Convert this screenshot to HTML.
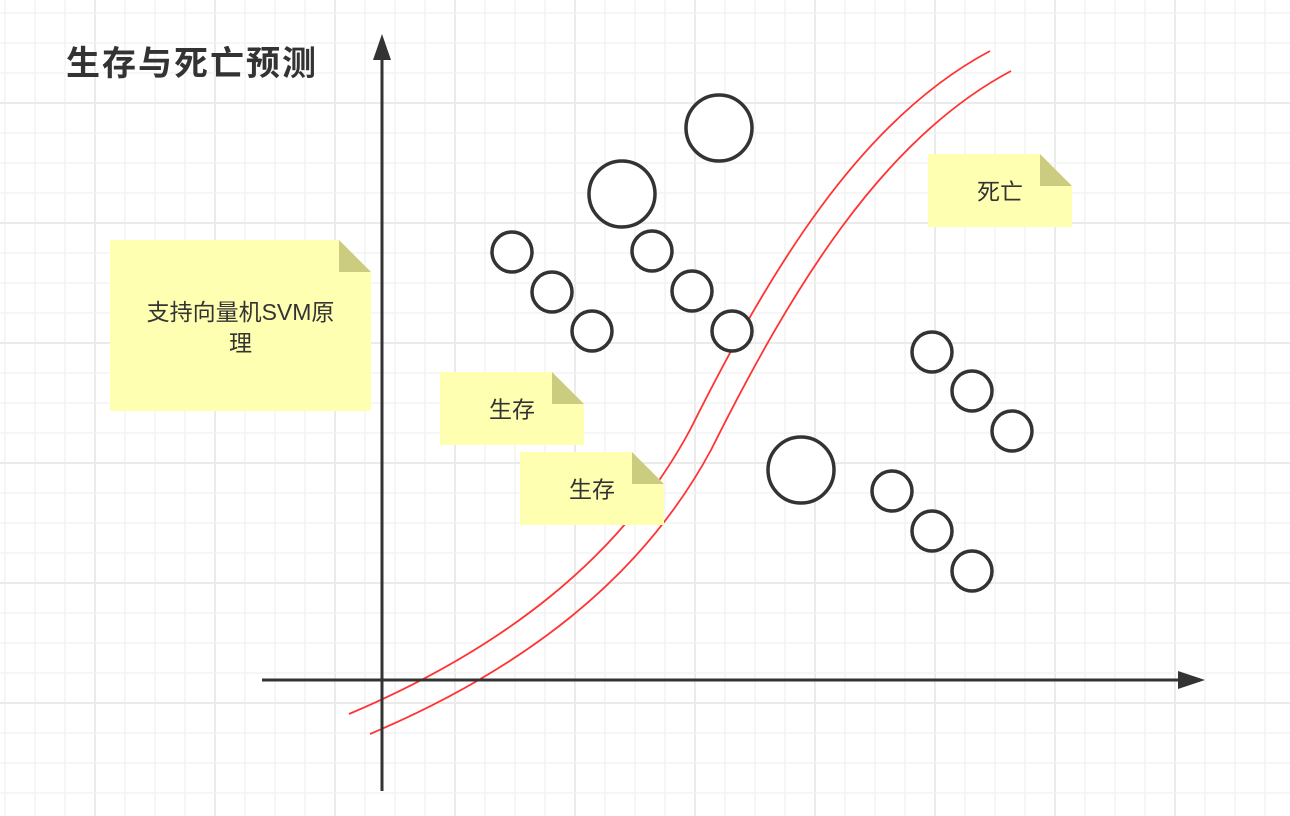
<!DOCTYPE html>
<html><head><meta charset="utf-8"><style>
html,body{margin:0;padding:0;background:#fff;}
svg{display:block;}
text{font-family:"Liberation Sans","Noto Sans CJK SC",sans-serif;fill:#333;}
</style></head><body>
<svg id="chart" width="1290" height="816" viewBox="0 0 1290 816">
<g id="grid"></g>
<g id="curves"></g>
<g>
<line x1="382" y1="58" x2="382" y2="791" stroke="#333" stroke-width="3"/>
<polygon points="382,34 373,60 391,60" fill="#333"/>
</g>
<g>
<line x1="262" y1="680" x2="1185" y2="680" stroke="#333" stroke-width="3"/>
<polygon points="1205,680 1178,671 1178,689" fill="#333"/>
</g>
<g id="circles"></g>
<g id="notes"></g>
<text x="66" y="75" font-size="34" font-weight="bold" textLength="250">生存与死亡预测</text>
</svg>
<script>
const bigX=[719,622,801];
const bigY=[128,194,470];
const smallX=[512,552,592,652,692,732,932,972,1012,892,932,972];
const smallY=[252,292,331,251,291,331,352,391,431,491,531,571];
const noteLabels=[["支持向量机SVM原","理"],["生存"],["生存"],["死亡"]];
const NS="http://www.w3.org/2000/svg";
function mk(tag,attrs,parent){const e=document.createElementNS(NS,tag);for(const k in attrs)e.setAttribute(k,attrs[k]);parent.appendChild(e);return e;}
const grid=document.getElementById('grid');
for(let x=5;x<1290;x+=30){const major=((x-95)%120===0);
const l=mk('line',{x1:x,y1:0,x2:x,y2:816,stroke:major?'#ebebeb':'#f3f3f3','stroke-width':major?2:1.5},grid);

}
for(let y=13;y<816;y+=30){const major=((y-103)%120===0);
const l=mk('line',{x1:0,y1:y,x2:1290,y2:y,stroke:major?'#ebebeb':'#f3f3f3','stroke-width':major?2:1.5},grid);

}
const cv=document.getElementById('curves');
const c1=mk('path',{d:'M349,714 C500,650 620,560 690,430 C770,270 860,120 990,51',fill:'none',stroke:'#ff3333','stroke-width':1.8},cv);


const c2=mk('path',{d:'M370,734 C521,670 641,580 711,450 C791,290 881,140 1011,71',fill:'none',stroke:'#ff3333','stroke-width':1.8},cv);


const cg=document.getElementById('circles');
bigX.forEach((x,i)=>{const c=mk('circle',{cx:x,cy:bigY[i],r:33,fill:'#fff',stroke:'#333','stroke-width':3.5},cg);

});
smallX.forEach((x,i)=>{const c=mk('circle',{cx:x,cy:smallY[i],r:20,fill:'#fff',stroke:'#333','stroke-width':3.5},cg);

});
const ng=document.getElementById('notes');
const boxes=[[110,240,261,171],[440,372,144,73],[520,452,144,73],[928,154,144,73]];
boxes.forEach((b,i)=>{const [x,y,w,h]=b,f=32;
const g=mk('g',{},ng);


mk('polygon',{points:`${x},${y} ${x+w-f},${y} ${x+w},${y+f} ${x+w},${y+h} ${x},${y+h}`,fill:'#ffffb2'},g);
mk('polygon',{points:`${x+w-f},${y} ${x+w},${y+f} ${x+w-f},${y+f}`,fill:'#cccc80'},g);
const lines=noteLabels[i];
lines.forEach((s,j)=>{const t=mk('text',{x:x+w/2,y:(i===0?y+80+j*31:y+h/2+9),'font-size':23,'text-anchor':'middle'},g);
t.textContent=s;

});
});
</script>
</body></html>
